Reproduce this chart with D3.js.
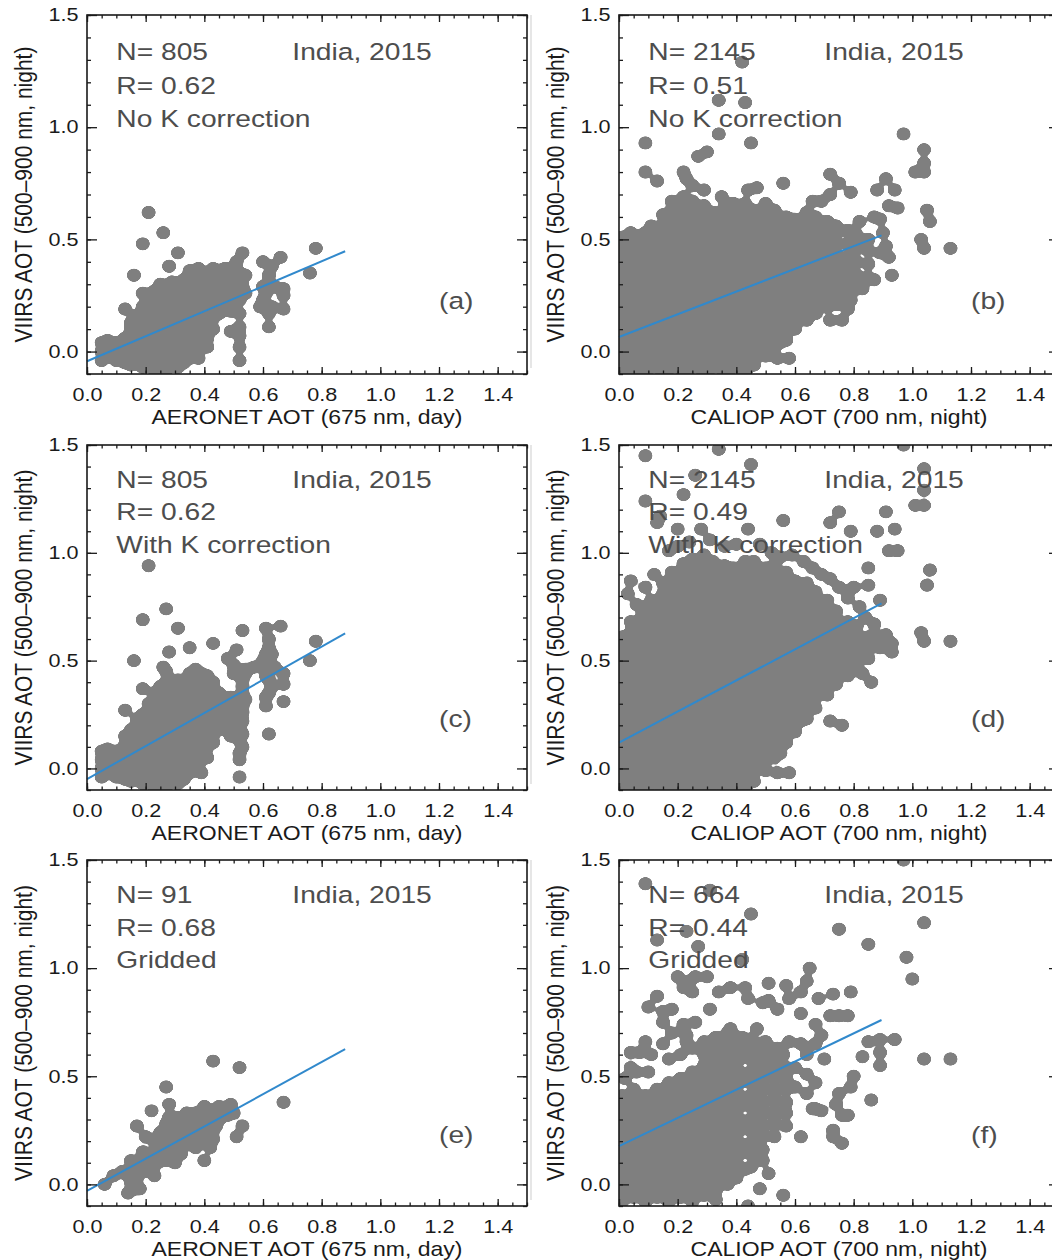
<!DOCTYPE html>
<html>
<head>
<meta charset="utf-8">
<script src="https://cdn.jsdelivr.net/npm/d3@7"></script>
<style>
  body { margin: 0; background: #fff; }
  svg { display: block; font-family: "Liberation Sans", Arial, Helvetica, sans-serif; }
</style>
</head>
<body>
<div id="chart"></div>
<script>
// scatter points, in hundredths: each row is [x, y1, y2, ...]
var aeronetNoK = [
  [5,-4,0,4], [7,-2,2,5], [10,-4,0,4], [13,-5,-1,3,6,19], [15,-6,-2,2,6,10,13],
  [16,34], [17,-4,0,4,8,12,16], [19,-7,-3,1,5,9,13,17,20,26,48],
  [21,-5,-1,3,7,11,15,19,23,62], [23,-8,-4,0,4,8,12,16,20,24,27],
  [25,-6,-2,2,6,10,14,18,22,26,30], [26,53], [27,-8,-4,0,4,8,12,16,20,24,28],
  [28,38], [29,-6,-2,3,7,11,15,19,23,27,31], [31,-7,-3,1,5,9,13,17,21,25,29,44],
  [33,-5,0,4,8,12,16,20,24,28,32], [35,-3,2,6,10,14,18,22,26,30,36],
  [37,0,4,8,12,16,20,24,28,32,35], [38,-3,37], [39,3,7,11,15,19,23,27,31],
  [41,2,6,10,14,18,22,26,30,34], [43,10,15,20,25,29,33,37], [45,17,22,27,32],
  [47,37], [48,22], [49,9,18,28,32], [51,40], [52,-4,2,7,11,17,23,35],
  [53,29,44], [54,26,34], [59,20], [60,23,29,40], [61,26], [62,11,17,34],
  [63,20,38], [64,29], [66,42], [67,19,25,28], [76,35], [78,46]
];

var caliopNoK = [
  [1,-9,-4,1,6,11,16,21,26,31,36,41,46,51],
  [4,-7,-2,3,8,13,18,23,28,33,38,43,48,53],
  [6,-9,1,11,21,31,41],
  [8,-9,-4,1,6,11,16,21,26,31,36,41,46,52],
  [9,53,80,93],
  [11,-7,-2,3,8,13,18,23,28,33,38,43,48,53,56],
  [13,76],
  [15,-9,-4,1,6,11,16,21,26,31,36,41,46,51,56,61],
  [18,-7,-2,3,8,13,18,23,28,33,38,43,48,53,58,63,67],
  [22,-9,-4,1,6,11,16,21,26,31,36,41,46,51,56,61,66,69,80],
  [23,77],
  [25,-7,-2,3,8,13,18,23,28,33,38,43,48,53,58,63,67,74],
  [27,87],
  [29,-9,-4,1,6,11,16,21,26,31,36,41,46,51,56,61,65,72],
  [30,89],
  [32,-7,-2,3,8,13,18,23,28,33,38,43,48,53,58,62],
  [34,97,112], [35,69],
  [36,-9,-4,1,6,11,16,21,26,31,36,41,46,51,56,61,64],
  [39,-7,-2,3,8,13,18,23,28,33,38,43,48,53,58,63,66],
  [42,129],
  [43,-9,-4,1,6,11,16,21,26,31,36,41,46,51,56,61,66,111],
  [44,72], [45,93],
  [46,-6,-1,3,8,13,18,23,28,33,38,43,48,53,58,63],
  [47,73],
  [50,-2,2,6,11,16,21,26,31,36,41,46,51,56,61,66],
  [53,2,8,13,18,23,28,33,38,43,48,53,58,63],
  [54,-3,8], [55,4], [56,75],
  [57,5,10,15,20,25,30,35,40,45,50,55,60],
  [58,-3],
  [60,10,14,19,24,29,34,39,44,49,54,59],
  [62,15],
  [64,14,19,24,29,34,39,44,49,54,59,62],
  [66,67],
  [67,17,22,27,32,37,42,47,52,57,60],
  [69,67],
  [71,20,25,30,35,40,45,50,55,58],
  [72,14,70,79],
  [74,21,27,33,38,43,48,53,56],
  [75,75], [76,14],
  [78,19,24,30,36,42,48,54],
  [79,23,71],
  [81,28,34,40,46,52],
  [82,58], [83,28],
  [85,33,39,45,50],
  [87,32,60], [88,72], [89,44,59], [90,53], [91,47,77], [92,42,65], [93,34],
  [94,72], [95,64], [97,97], [101,80], [103,50], [104,46,80,84,90], [105,63],
  [106,58], [113,46]
];

var aeronetK = [
  [5,-4,0,4,8], [7,-2,2,6,9], [10,-4,0,4,8], [13,-5,-1,3,7,11,15,27],
  [15,-6,-2,2,6,10,14,18], [16,50], [17,-4,0,4,8,12,16,20,23],
  [19,-7,-3,1,5,9,13,17,21,25,37,69], [21,-6,-2,2,6,10,14,18,22,26,30,94],
  [23,-8,-4,0,4,8,12,16,20,24,28,32,35], [25,-6,-2,2,6,10,14,18,22,26,30,34,38],
  [26,47], [27,-8,-4,0,4,8,12,16,20,24,28,32,36,40,45,74], [28,54],
  [29,-6,-2,3,7,11,15,19,23,27,31,35,39], [31,-7,-3,1,5,9,13,17,21,25,29,33,37,41,65],
  [33,-5,0,4,8,12,16,20,24,28,32,36,40], [35,-2,2,6,10,14,18,22,26,30,34,38,42,44,56],
  [37,1,5,9,13,17,21,25,29,33,37,41,46], [39,-2,4,8,12,16,20,24,28,32,36,40,44],
  [41,5,10,14,18,22,26,30,34,38,43], [43,12,16,21,26,31,36,40,58], [45,18,24,30,35],
  [48,51], [49,15,21,27,33], [50,44,48], [51,55], [52,-4,4,7,13,19],
  [53,10,16,22,26,29,35,38,41,64], [54,32,44,46], [57,47], [60,50],
  [61,29,33,43,53,65], [62,16,35,41,47,56,60], [63,38,53], [64,47],
  [66,66], [67,31,39,44], [76,50], [78,59]
];

var caliopK = [
  [1,-9,-4,1,6,11,16,21,26,31,36,41,46,51,56,61],
  [3,81],
  [4,-7,-2,3,8,13,18,23,28,33,38,43,48,53,58,63,68,87],
  [6,-9,1,11,21,31,41,51,61,76],
  [8,-9,-4,1,6,11,16,21,26,31,36,41,46,51,56,61,66,71,74],
  [9,84,124,145],
  [11,-7,-2,3,8,13,18,23,28,33,38,43,48,53,58,63,68,73,78],
  [12,90], [13,114], [14,117],
  [15,-9,-4,1,6,11,16,21,26,31,36,41,46,51,56,61,66,71,76,81,86],
  [17,101],
  [18,-7,-2,3,8,13,18,23,28,33,38,43,48,53,58,63,68,73,78,83,88,91],
  [20,103,111],
  [22,-9,-4,1,6,11,16,21,26,31,36,41,46,51,56,61,66,71,76,81,86,91,95,127],
  [24,105],
  [25,-7,-2,3,8,13,18,23,28,33,38,43,48,53,58,63,68,73,78,83,88,93,97],
  [26,136], [28,111],
  [29,-9,-4,1,6,11,16,21,26,31,36,41,46,51,56,61,66,71,76,81,86,91,96,99],
  [31,106],
  [32,-7,-2,3,8,13,18,23,28,33,38,43,48,53,58,63,68,73,78,83,88,93,96],
  [34,148],
  [36,-9,-4,1,6,11,16,21,26,31,36,41,46,51,56,61,66,71,76,81,86,91,94,103],
  [39,-7,-2,3,8,13,18,23,28,33,38,43,48,53,58,63,68,73,78,83,88,93],
  [40,104],
  [43,-9,-4,1,6,11,16,21,26,31,36,41,46,51,56,61,66,71,76,81,86,91,96],
  [44,111], [45,141],
  [46,-6,-1,3,8,13,18,23,28,33,38,43,48,53,58,63,68,73,78,83,88,93,96],
  [48,104],
  [50,-1,4,9,14,19,24,29,34,39,44,49,54,59,64,69,74,79,84,89,93],
  [52,100],
  [53,5,10,15,20,25,30,35,40,45,50,55,60,65,70,75,80,85,90,94],
  [54,-2], [55,7,98], [56,115],
  [57,12,17,22,27,32,37,42,47,52,57,62,67,72,77,82,87,91],
  [58,-2], [59,99],
  [60,17,22,27,32,37,42,47,52,57,62,67,72,77,82,87],
  [62,22], [63,96],
  [64,23,28,33,38,43,48,53,58,63,68,73,78,83,86],
  [66,93],
  [67,28,33,38,43,48,53,58,63,68,73,78,82],
  [69,90],
  [71,34,39,44,49,54,59,64,69,74,78],
  [72,22,88,114],
  [74,39,44,49,54,59,64,69,73],
  [75,84,119], [76,20],
  [78,43,48,53,58,63,68,79],
  [79,110], [80,84],
  [81,47,52,57,62,66],
  [82,75], [83,44], [84,70],
  [85,51,56,61,85,93],
  [86,40], [87,67], [88,61,110], [89,56,78], [91,62,119], [92,101], [93,54,58],
  [94,111], [95,101], [97,150], [101,122], [103,63], [104,59,122,129,139],
  [105,85], [106,92], [113,59]
];

var aeronetGrid = [
  [6,0], [9,4], [12,6], [13,5], [14,-4], [15,1,11], [16,6], [17,-2,3,27], [18,-2],
  [19,6,11,15], [20,13,22], [22,6,14,34], [23,4,9,20], [24,10,12,17], [25,24],
  [26,20], [27,11,15,25,28,45], [28,14,25,31,37], [29,20], [30,10,23,31],
  [31,16], [32,14,21,26], [33,25], [34,19,29,33], [35,21,26], [36,25],
  [37,17,26,31,33], [39,20,22], [40,11,29,36], [41,23], [42,17,32,34],
  [43,21,25,57], [44,27], [45,30,36], [48,32], [49,37], [50,33], [51,22],
  [52,54], [53,27], [67,38]
];

var caliopGrid = [
  [1,-8,-3,3,8,14,19,25,30,36,41],
  [2,49], [3,-5,6,17,28,39], [4,54,61],
  [5,-6,0,5,11,16,22,27,33,38,44],
  [6,52], [7,-3,8,19,30,61],
  [9,-8,-3,3,8,14,19,25,30,36,41,66,139],
  [10,52,82], [11,0,11,22,33,60],
  [13,-6,0,5,11,16,22,27,33,38,44,87,113],
  [15,-3,8,19,30,41,65,75,80],
  [17,-8,-3,3,8,14,19,25,30,36,41,47,58],
  [18,70,81], [19,0,11,22,33,44], [20,96],
  [21,-6,0,5,11,16,22,27,33,38,44,49,60],
  [22,74,91], [23,-3,8,19,30,41,66,69,117], [24,94],
  [25,-8,-3,3,8,14,19,25,30,36,41,47,52,63,89],
  [26,75,96], [27,0,11,22,33,44,110],
  [29,-5,0,5,11,16,22,27,33,38,44,49,55,60,66],
  [30,96], [31,8,19,30,41,81,136],
  [33,-7,-3,3,8,14,19,25,30,36,41,47,52,58,63,68],
  [34,89], [35,11,22,33,44],
  [37,0,3,5,11,16,22,27,33,38,44,49,55,60,66,70],
  [38,72,91], [39,19,30,41], [40,3],
  [41,8,14,19,25,30,36,41,47,52,58,63,68],
  [42,68,104], [43,7,91], [44,-10,86],
  [45,8,14,19,25,30,36,41,47,52,58,63,67,125],
  [47,72], [48,-2],
  [49,11,16,22,27,33,38,44,49,55,60,65,84],
  [50,66], [51,5,85,93],
  [53,22,28,33,39,44,50,55,60],
  [54,63,81], [56,-5,60],
  [57,27,33,38,44,49,54,92],
  [58,66,86], [60,45,54], [62,22,65,79,89], [64,42,51,60,94], [65,100],
  [66,35], [67,35,47,65,74], [68,86], [69,34,69], [70,58], [72,78],
  [73,22,25,88], [74,37], [75,42,78,118], [76,19,32], [78,32,78], [79,45,89],
  [80,50], [83,59], [85,66,111], [86,39], [89,55,61,67], [94,67], [97,150],
  [98,105], [100,95], [104,58,121], [113,58]
];

// regression lines: [x0, y0], [x1, y1]
var fitLines = [
  [[0, -0.043], [0.88, 0.447]],
  [[0, 0.065], [0.895, 0.518]],
  [[0, -0.05], [0.88, 0.626]],
  [[0, 0.12], [0.895, 0.765]],
  [[0, -0.03], [0.88, 0.625]],
  [[0, 0.177], [0.895, 0.76]]
];

var panelN = ["805", "2145", "805", "2145", "91", "664"];
var panelR = ["0.62", "0.51", "0.62", "0.49", "0.68", "0.44"];
var panelNote = ["No K correction", "No K correction", "With K correction", "With K correction", "Gridded", "Gridded"];
var panelTag = ["(a)", "(b)", "(c)", "(d)", "(e)", "(f)"];
var placeLabel = "India, 2015";
var xTitles = ["AERONET AOT (675 nm, day)", "CALIOP AOT (700 nm, night)"];
var yTitle = "VIIRS AOT (500\u2013900 nm, night)";
var xMajor = [0, 0.2, 0.4, 0.6, 0.8, 1.0, 1.2, 1.4];
var yMajor = [0, 0.5, 1.0, 1.5];

var panelData = [aeronetNoK, caliopNoK, aeronetK, caliopK, aeronetGrid, caliopGrid];

// layout
var W = 1052, H = 1260;
var colLeft = [87, 619], plotW = 440;
var rowTop = [15, 445, 860], rowBot = [374, 790, 1206];
var stretch = 1.2;   // the source image is a little wider than tall
var dotColor = "#7f7f7f", lineColor = "#3189cc", inkColor = "#1a1a1a", noteColor = "#4d4d4d";

var svg = d3.select("#chart").append("svg")
  .attr("width", W)
  .attr("height", H);

// soften + re-threshold the dot layer so nearly touching dots fuse into
// a solid cloud, as in the blurry original; lone dots keep their size
var merge = svg.append("defs").append("filter")
  .attr("id", "merge")
  .attr("color-interpolation-filters", "sRGB");
merge.append("feGaussianBlur").attr("in", "SourceAlpha").attr("stdDeviation", 1.8).attr("result", "soft");
merge.append("feComponentTransfer").attr("in", "soft").attr("result", "mask")
  .append("feFuncA").attr("type", "linear").attr("slope", 8).attr("intercept", -3.4);
merge.append("feFlood").attr("flood-color", dotColor);
merge.append("feComposite").attr("in2", "mask").attr("operator", "in");

function expand(rows) {
  var out = [];
  rows.forEach(function(r) {
    for (var i = 1; i < r.length; i++) out.push([r[0] / 100, r[i] / 100]);
  });
  return out;
}

function label(g, x, y, str, size, fill, anchor, sx) {
  return g.append("text")
    .attr("transform", "translate(" + x + "," + y + ") scale(" + (sx || stretch) + ",1)")
    .attr("text-anchor", anchor || "start")
    .attr("fill", fill)
    .style("font-size", size + "px")
    .text(str);
}

function addAxis(g, axis, tx, ty) {
  return g.append("g")
    .attr("transform", "translate(" + tx + "," + ty + ")")
    .call(axis)
    .attr("font-size", 18)
    .attr("font-family", null)
    .attr("color", inkColor)
    .call(function(s) { s.select(".domain").remove(); })
    .call(function(s) { s.selectAll("line").attr("stroke-width", 1.3); });
}

var xMinor = d3.range(0, 31).map(function(i) { return i * 0.05; });
var yMinor = d3.range(-1, 16).map(function(i) { return i / 10; });
var fmt = d3.format(".1f");

panelData.forEach(function(rows, i) {
  var col = i % 2, row = Math.floor(i / 2);
  var left = colLeft[col], top = rowTop[row], bot = rowBot[row];

  var x = d3.scaleLinear().domain([0, 1.5]).range([left, left + plotW]);
  var y = d3.scaleLinear().domain([-0.1, 1.5]).range([bot, top]);

  var g = svg.append("g");

  if (col === 1) {
    // faint border left by the pasted right-hand figure
    g.append("line")
      .attr("x1", 531).attr("x2", 531)
      .attr("y1", top).attr("y2", bot - 6)
      .attr("stroke", "#d6d6d6").attr("stroke-width", 1.2);
  }

  var clipId = "clip" + i;
  g.append("clipPath").attr("id", clipId)
    .append("rect")
    .attr("x", left).attr("y", top)
    .attr("width", plotW).attr("height", bot - top);

  var pts = expand(rows);
  g.append("g").attr("clip-path", "url(#" + clipId + ")")
    .append("g").attr("filter", "url(#merge)")
    .selectAll("ellipse")
    .data(pts)
    .enter()
    .append("ellipse")
    .attr("cx", function(d) { return x(d[0]); })
    .attr("cy", function(d) { return y(d[1]); })
    .attr("rx", 7.2)
    .attr("ry", 6.7)
    .attr("fill", dotColor);

  var line = d3.line()
    .x(function(d) { return x(d[0]); })
    .y(function(d) { return y(d[1]); });

  g.append("path")
    .datum(fitLines[i])
    .attr("d", line)
    .attr("fill", "none")
    .attr("stroke", lineColor)
    .attr("stroke-width", 2);

  // frame
  g.append("rect")
    .attr("x", left).attr("y", top)
    .attr("width", plotW).attr("height", bot - top)
    .attr("fill", "none")
    .attr("stroke", inkColor)
    .attr("stroke-width", 1.6);

  // ticks, pointing inward on all four sides
  var xb = addAxis(g, d3.axisBottom(x).tickValues(xMajor).tickSize(-7).tickSizeOuter(0).tickPadding(14).tickFormat(fmt), 0, bot);
  addAxis(g, d3.axisBottom(x).tickValues(xMinor).tickSize(-3.5).tickSizeOuter(0).tickFormat(""), 0, bot);
  addAxis(g, d3.axisTop(x).tickValues(xMajor).tickSize(-7).tickSizeOuter(0).tickFormat(""), 0, top);
  addAxis(g, d3.axisTop(x).tickValues(xMinor).tickSize(-3.5).tickSizeOuter(0).tickFormat(""), 0, top);
  var yl = addAxis(g, d3.axisLeft(y).tickValues(yMajor).tickSize(-10).tickSizeOuter(0).tickPadding(7).tickFormat(fmt), left, 0);
  addAxis(g, d3.axisLeft(y).tickValues(yMinor).tickSize(-4).tickSizeOuter(0).tickFormat(""), left, 0);
  addAxis(g, d3.axisRight(y).tickValues(yMajor).tickSize(-10).tickSizeOuter(0).tickFormat(""), left + plotW, 0);
  addAxis(g, d3.axisRight(y).tickValues(yMinor).tickSize(-4).tickSizeOuter(0).tickFormat(""), left + plotW, 0);

  xb.selectAll("text").attr("transform", "scale(" + stretch + ",1)");
  yl.selectAll("text").attr("transform", "scale(" + stretch + ",1)");

  // axis titles
  label(g, (left + left + plotW) / 2, bot + 50, xTitles[col], 20, inkColor, "middle", 1.15);
  g.append("text")
    .attr("transform", "translate(" + (left - 55) + "," + ((top + bot) / 2) + ") scale(1.15,1) rotate(-90)")
    .attr("text-anchor", "middle")
    .attr("fill", inkColor)
    .style("font-size", "21px")
    .text(yTitle);

  // annotations
  label(g, x(0.1), y(1.3), "N= " + panelN[i], 23.5, noteColor);
  label(g, x(0.1), y(1.15), "R= " + panelR[i], 23.5, noteColor);
  label(g, x(0.1), y(1.0), panelNote[i], 23.5, noteColor);
  label(g, x(0.7), y(1.3), placeLabel, 23.5, noteColor);
  label(g, x(1.2), y(0.19), panelTag[i], 23.5, noteColor);
});
</script>
</body>
</html>
